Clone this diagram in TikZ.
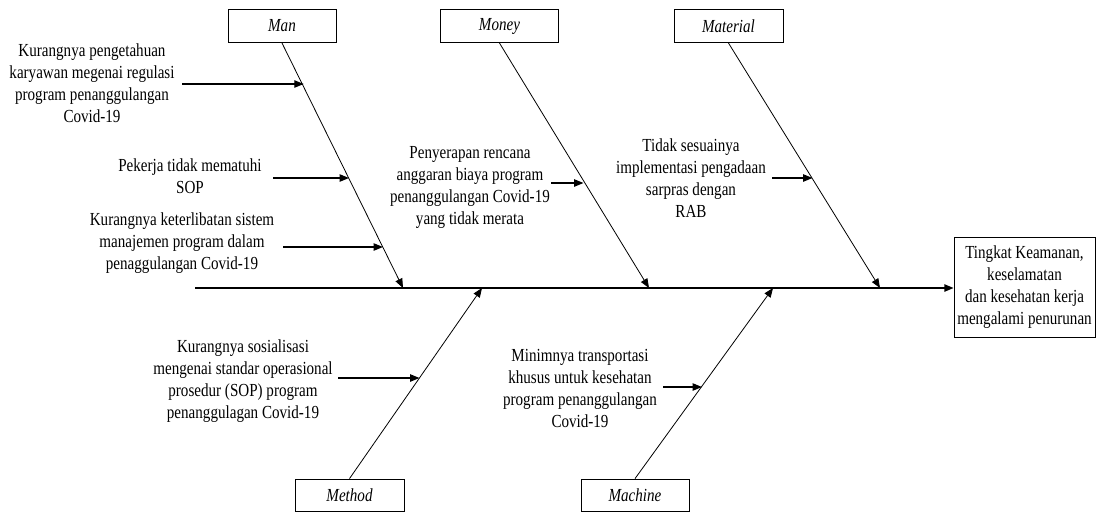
\documentclass[tikz,border=0pt]{standalone}
\usepackage{fontspec}
\usepackage{graphicx}
\setmainfont{Liberation Serif}
\usetikzlibrary{arrows.meta}
\newcommand{\condtext}[1]{\scalebox{0.82}[1]{\begin{tabular}{@{}c@{}}#1\end{tabular}}}
\newcommand{\condword}[1]{\scalebox{0.82}[1]{#1}}
\begin{document}
\begin{tikzpicture}[x=0.75pt,y=-0.75pt,
  txt/.style={inner sep=0pt,font=\fontsize{13.8}{16.5}\selectfont},
  catbox/.style={draw,line width=0.6pt,minimum width=#1,minimum height=25pt,inner sep=0pt,font=\fontsize{13.8}{16.5}\selectfont\itshape},
  effectbox/.style={draw,line width=0.6pt,minimum width=105.75pt,minimum height=75pt,inner sep=0pt,font=\fontsize{13.8}{16.5}\selectfont},
  bone/.style={line width=0.6pt,-{Triangle[length=7pt,width=5.5pt]}},
  sub/.style={line width=0.9pt,-{Triangle[length=7pt,width=5.5pt]}},
  spine/.style={line width=1.2pt,-{Triangle[length=7pt,width=5.5pt]}}]
\useasboundingbox (0,0) rectangle (1096,512);

% category boxes
\node[catbox=81pt] (man) at (282,26) {\condword{Man}};
\node[catbox=89pt] (money) at (499.5,26) {\condword{Money}};
\node[catbox=81.75pt] (material) at (728.5,26) {\condword{Material}};
\node[catbox=81.75pt,minimum height=24pt] (method) at (349.5,495) {\condword{Method}};
\node[catbox=81pt,minimum height=24pt] (machine) at (635,495) {\condword{Machine}};

% effect
\node[effectbox] (effect) at (1024.5,287) {\condtext{Tingkat Keamanan,\\keselamatan\\dan kesehatan kerja\\mengalami penurunan}};

% spine
\coordinate (tail) at (195,288);
\draw[spine] (tail) -- (tail -| effect.west);

% bone ends on spine
\coordinate (manE) at (403,288);
\coordinate (moneyE) at (649,288);
\coordinate (materialE) at (880,288);
\coordinate (methodE) at (482,288);
\coordinate (machineE) at (773,288);

\draw[bone] (man.south) -- (manE);
\draw[bone] (money.south) -- (moneyE);
\draw[bone] (material.south) -- (materialE);
\draw[bone] (method.north) -- (methodE);
\draw[bone] (machine.north) -- (machineE);

% cause texts
\node[txt] (c1) at (92,85) {\condtext{Kurangnya pengetahuan\\karyawan megenai regulasi\\program penanggulangan\\Covid-19}};
\node[txt] (c2) at (190,178) {\condtext{Pekerja tidak mematuhi\\SOP}};
\node[txt] (c3) at (182,243) {\condtext{Kurangnya keterlibatan sistem\\manajemen program dalam\\penaggulangan Covid-19}};
\node[txt] (c4) at (470,187) {\condtext{Penyerapan rencana\\anggaran biaya program\\penanggulangan Covid-19\\yang tidak merata}};
\node[txt] (c5) at (691,180) {\condtext{Tidak sesuainya\\implementasi pengadaan\\sarpras dengan\\RAB}};
\node[txt] (c6) at (243,381) {\condtext{Kurangnya sosialisasi\\mengenai standar operasional\\prosedur (SOP) program\\penanggulagan Covid-19}};
\node[txt] (c7) at (580,390) {\condtext{Minimnya transportasi\\khusus untuk kesehatan\\program penanggulangan\\Covid-19}};

% sub-cause arrows
\coordinate (s1) at (182,84);  \coordinate (e1) at (303.7,84);
\coordinate (s2) at (273,178); \coordinate (e2) at (349,178);
\coordinate (s3) at (283,247); \coordinate (e3) at (383,247);
\coordinate (s4) at (551,183); \coordinate (e4) at (583.5,183);
\coordinate (s5) at (772,178); \coordinate (e5) at (812.5,178);
\coordinate (s6) at (338,378); \coordinate (e6) at (419.5,378);
\coordinate (s7) at (663,387); \coordinate (e7) at (702,387);
\foreach \i in {1,...,7}{\draw[sub] (s\i) -- (e\i);}
\end{tikzpicture}
\end{document}
